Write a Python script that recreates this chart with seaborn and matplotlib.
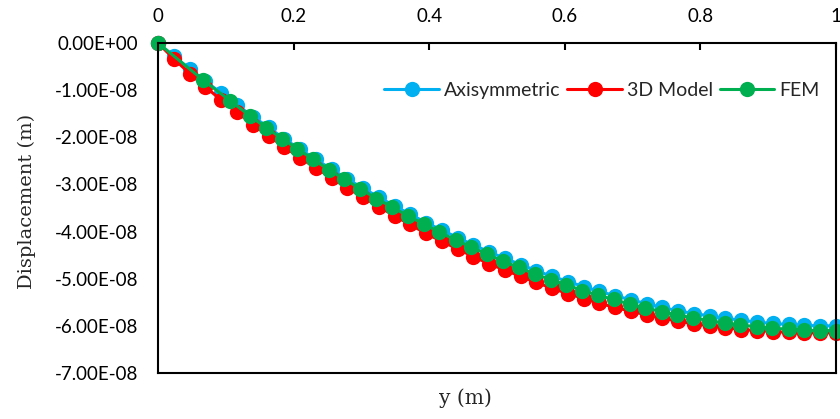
import pandas as pd
import seaborn as sns
import matplotlib.pyplot as plt

# Position along y (m) for the analytical series
y_axi = [0, 0.023, 0.047, 0.070, 0.093, 0.116, 0.140, 0.163, 0.186, 0.209, 0.233,
         0.256, 0.279, 0.302, 0.326, 0.349, 0.372, 0.395, 0.419, 0.442, 0.465, 0.488,
         0.512, 0.535, 0.558, 0.581, 0.605, 0.628, 0.651, 0.674, 0.698, 0.721, 0.744,
         0.767, 0.791, 0.814, 0.837, 0.860, 0.884, 0.907, 0.930, 0.953, 0.977, 1.0]
y_3d = y_axi

# Displacement in units of 1e-8 m
d_axi = [0, -0.28, -0.55, -0.81, -1.06, -1.31, -1.56, -1.79, -2.03, -2.25, -2.47,
         -2.68, -2.88, -3.08, -3.27, -3.46, -3.63, -3.81, -3.97, -4.13, -4.28, -4.43,
         -4.57, -4.70, -4.83, -4.95, -5.06, -5.17, -5.27, -5.36, -5.45, -5.53, -5.61,
         -5.68, -5.74, -5.79, -5.84, -5.88, -5.92, -5.95, -5.97, -5.99, -6.00, -6.00]
d_3d = [0, -0.33, -0.65, -0.93, -1.21, -1.46, -1.73, -1.97, -2.20, -2.43, -2.65,
        -2.86, -3.07, -3.27, -3.47, -3.67, -3.85, -4.04, -4.21, -4.37, -4.53, -4.68,
        -4.82, -4.95, -5.08, -5.20, -5.32, -5.42, -5.52, -5.61, -5.69, -5.77, -5.84,
        -5.90, -5.96, -6.00, -6.04, -6.08, -6.10, -6.12, -6.14, -6.15, -6.15, -6.15]

# FEM nodes
y_fem = [0, 0.066, 0.106, 0.135, 0.160, 0.183, 0.205, 0.228, 0.252, 0.275, 0.298,
         0.322, 0.345, 0.369, 0.392, 0.415, 0.439, 0.462, 0.485, 0.509, 0.532, 0.556,
         0.579, 0.602, 0.626, 0.649, 0.672, 0.696, 0.719, 0.743, 0.766, 0.789, 0.813,
         0.836, 0.859, 0.883, 0.906, 0.930, 0.953, 0.977, 1.0]
d_fem = [0, -0.78, -1.22, -1.54, -1.80, -2.03, -2.24, -2.46, -2.69, -2.89, -3.09,
         -3.30, -3.48, -3.67, -3.84, -4.01, -4.18, -4.33, -4.48, -4.63, -4.76, -4.90,
         -5.02, -5.13, -5.25, -5.35, -5.44, -5.54, -5.62, -5.70, -5.77, -5.83, -5.89,
         -5.94, -5.98, -6.02, -6.05, -6.07, -6.09, -6.10, -6.10]

y_ticks = [0, 0.2, 0.4, 0.6, 0.8, 1]
x_tick_labels = ["0", "0.2", "0.4", "0.6", "0.8", "1"]
d_ticks = [0, -1, -2, -3, -4, -5, -6, -7]
d_tick_labels = ["0.00E+00", "-1.00E-08", "-2.00E-08", "-3.00E-08",
                 "-4.00E-08", "-5.00E-08", "-6.00E-08", "-7.00E-08"]

sns.set_style("white")
plt.rcParams['font.family'] = ['Lato', 'DejaVu Sans']

fig = plt.figure(figsize=(8.4, 4.19), dpi=100)
ax = fig.add_axes([158 / 840, 1 - 373 / 419, 678 / 840, 330 / 419])

series = [
    ("Axisymmetric", y_axi, d_axi, "#00B0F0"),
    ("3D Model", y_3d, d_3d, "#FF0000"),
    ("FEM", y_fem, d_fem, "#00B050"),
]
for name, ys, ds, col in series:
    df = pd.DataFrame({"y": ys, "d": ds})
    sns.lineplot(data=df, x="y", y="d", ax=ax, color=col, marker="o",
                 markersize=11, markeredgewidth=0, linewidth=2.2,
                 label=name, sort=False, errorbar=None, clip_on=False)

ax.set_xlim(0, 1)
ax.set_ylim(-7, 0)
ax.set_xticks(y_ticks)
ax.set_xticklabels(x_tick_labels)
ax.set_yticks(d_ticks)
ax.set_yticklabels(d_tick_labels)

ax.xaxis.set_ticks_position('top')
ax.xaxis.set_label_position('bottom')
ax.tick_params(axis='x', direction='in', length=5, width=1.5, pad=13,
               labelsize=13.5, colors='black')
ax.tick_params(axis='y', direction='in', length=5, width=1.5, pad=14,
               labelsize=13.5, colors='black')
for s in ax.spines.values():
    s.set_visible(True)
    s.set_color('black')
    s.set_linewidth(1.5)

ax.set_xlabel("y (m)", family="DejaVu Serif", fontsize=14.5)
ax.xaxis.set_label_coords(0.453, -0.048)
ax.set_ylabel("Displacement (m)", family="DejaVu Serif", fontsize=14)
ax.yaxis.set_label_coords(-0.18, 0.52)

ax.legend(loc='center right', bbox_to_anchor=(0.976, 0.857), ncol=3, frameon=False,
          fontsize=14, handlelength=2.8, columnspacing=0.36, handletextpad=0.26,
          borderpad=0, borderaxespad=0)

plt.savefig("out.png", dpi=100)
